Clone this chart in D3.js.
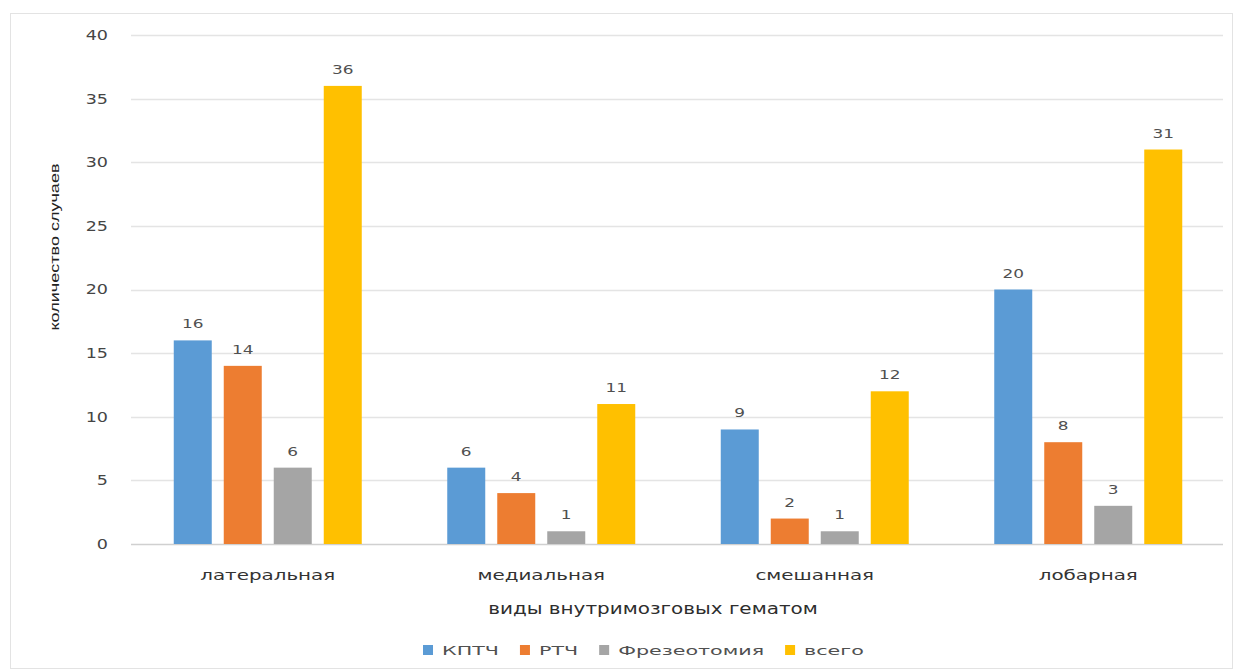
<!DOCTYPE html>
<html>
<head>
<meta charset="utf-8">
<script src="https://cdn.jsdelivr.net/npm/d3@7"></script>
<style>
  body { margin: 0; background: #fff; }
  text { font-family: "DejaVu Sans", sans-serif; }
</style>
</head>
<body>
<div id="chart"></div>
<script>
// data
var categories = ["латеральная", "медиальная", "смешанная", "лобарная"];
var seriesNames = ["КПТЧ", "РТЧ", "Фрезеотомия", "всего"];
var kptch = [16, 6, 9, 20];
var rtch = [14, 4, 2, 8];
var frezeotomiya = [6, 1, 1, 3];
var vsego = [36, 11, 12, 31];
var yTicks = [0, 5, 10, 15, 20, 25, 30, 35, 40];

var seriesValues = [kptch, rtch, frezeotomiya, vsego];
var colors = ["#5b9bd5", "#ed7d31", "#a5a5a5", "#ffc000"];

var width = 1243, height = 671;
var plot = { left: 131, right: 1225, top: 35, bottom: 544 };

// the original text looks stretched sideways
function stretch(sel, factor) {
  sel.each(function() {
    var len = this.getComputedTextLength();
    d3.select(this)
      .attr("textLength", len * factor)
      .attr("lengthAdjust", "spacingAndGlyphs");
  });
}

var svg = d3.select("#chart")
  .append("svg")
  .attr("width", width)
  .attr("height", height);

// chart frame
svg.append("rect")
  .attr("x", 10.5).attr("y", 13.5)
  .attr("width", 1222).attr("height", 655)
  .style("fill", "none")
  .style("stroke", "#e3e3e3");

var x0 = d3.scaleBand()
  .domain(categories)
  .range([plot.left, plot.right]);

var x1 = d3.scaleBand()
  .domain(seriesNames)
  .range([42.75, x0.bandwidth() - 42.75])
  .paddingInner(0.24);

var y = d3.scaleLinear()
  .domain([0, 40])
  .range([plot.bottom, plot.top]);

// gridlines
svg.append("g")
  .selectAll("line")
  .data(yTicks)
  .enter().append("line")
  .attr("x1", plot.left)
  .attr("x2", plot.right - 2)
  .attr("y1", function(d) { return Math.round(y(d)) + 0.5; })
  .attr("y2", function(d) { return Math.round(y(d)) + 0.5; })
  .style("stroke", function(d) { return d === 0 ? "#d0d0d0" : "#e4e4e4"; })
  .style("stroke-width", "1.5px");

// y axis labels
var yAxis = d3.axisLeft(y).tickValues(yTicks).tickSize(0).tickPadding(0);
var yg = svg.append("g")
  .attr("transform", "translate(108,0)")
  .call(yAxis);
yg.select(".domain").remove();
yg.selectAll("text")
  .style("font-family", "DejaVu Sans")
  .style("font-size", "14px")
  .style("fill", "#454545")
  .call(stretch, 1.25);

// y title
svg.append("text")
  .attr("transform", "translate(59,247) rotate(-90)")
  .attr("text-anchor", "middle")
  .style("font-family", "'Liberation Sans Narrow', 'Liberation Sans', sans-serif")
  .style("font-size", "13px")
  .style("fill", "#222")
  .text("количество случаев")
  .attr("textLength", 167)
  .attr("lengthAdjust", "spacingAndGlyphs");

// bars
var groups = svg.append("g")
  .selectAll("g")
  .data(categories)
  .enter().append("g")
  .attr("transform", function(d) { return "translate(" + x0(d) + ",0)"; });

groups.selectAll("rect")
  .data(function(d, i) {
    return seriesNames.map(function(s, j) { return { key: s, value: seriesValues[j][i], color: colors[j] }; });
  })
  .enter().append("rect")
  .attr("x", function(d) { return x1(d.key); })
  .attr("width", x1.bandwidth())
  .attr("y", function(d) { return y(d.value); })
  .attr("height", function(d) { return y(0) - y(d.value); })
  .style("fill", function(d) { return d.color; });

groups.selectAll("text.val")
  .data(function(d, i) {
    return seriesNames.map(function(s, j) { return { key: s, value: seriesValues[j][i] }; });
  })
  .enter().append("text")
  .attr("class", "val")
  .attr("x", function(d) { return x1(d.key) + x1.bandwidth() / 2; })
  .attr("y", function(d) { return y(d.value) - 12; })
  .attr("text-anchor", "middle")
  .style("font-size", "13px")
  .style("fill", "#505050")
  .text(function(d) { return d.value; })
  .call(stretch, 1.3);

// category labels
svg.append("g")
  .selectAll("text")
  .data(categories)
  .enter().append("text")
  .attr("x", function(d) { return x0(d) + x0.bandwidth() / 2; })
  .attr("y", 580)
  .attr("text-anchor", "middle")
  .style("font-size", "14px")
  .style("fill", "#333")
  .text(function(d) { return d; })
  .call(stretch, 1.42);

// x title
svg.append("text")
  .attr("x", 653)
  .attr("y", 614)
  .attr("text-anchor", "middle")
  .style("font-size", "15px")
  .style("fill", "#2e2e2e")
  .text("виды внутримозговых гематом")
  .call(stretch, 1.33);

// legend
var legend = svg.append("g").attr("transform", "translate(423,650)");
var lx = 0;
seriesNames.forEach(function(name, i) {
  var item = legend.append("g").attr("transform", "translate(" + lx + ",0)");
  item.append("rect")
    .attr("x", 0).attr("y", -5)
    .attr("width", 10).attr("height", 10)
    .style("fill", colors[i]);
  var t = item.append("text")
    .attr("x", 19)
    .attr("y", 4.5)
    .style("font-size", "12px")
    .style("fill", "#505050")
    .text(name)
    .call(stretch, 1.72);
  lx += 19 + +t.attr("textLength") + 21;
});
</script>
</body>
</html>
